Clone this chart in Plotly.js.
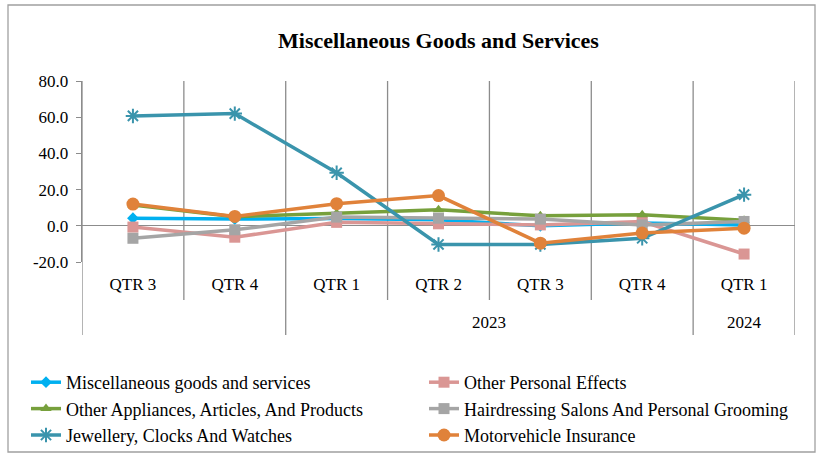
<!DOCTYPE html>
<html>
<head>
<meta charset="utf-8">
<script src="https://cdn.plot.ly/plotly-3.0.1.min.js"></script>
<style>html,body{margin:0;padding:0;background:#fff;}#chart{width:824px;height:455px;}</style>
</head>
<body>
<div id="chart"></div>
<script>
// ---- data ----
const quarters = ["QTR 3", "QTR 4", "QTR 1", "QTR 2", "QTR 3", "QTR 4", "QTR 1"];
const years = ["", "", "2023", "2023", "2023", "2023", "2024"];
const seriesNames = [
  "Miscellaneous goods and services",
  "Other Personal Effects",
  "Other Appliances, Articles, And Products",
  "Hairdressing Salons And Personal Grooming",
  "Jewellery, Clocks And Watches",
  "Motorvehicle Insurance"
];
const miscGoods = [4.2, 3.7, 4.0, 3.3, 0.0, 1.5, 0.5];
const otherPersonal = [-0.7, -6.3, 1.9, 1.1, 0.5, 2.4, -15.6];
const otherAppliances = [11.5, 5.0, 7.0, 8.8, 5.5, 6.1, 3.0];
const hairdressing = [-6.9, -2.2, 4.8, 4.2, 3.7, 0.5, 2.4];
const jewellery = [60.7, 62.0, 29.3, -10.3, -10.3, -6.9, 17.2];
const motorInsurance = [12.0, 5.2, 12.2, 16.7, -9.6, -4.0, -1.3];
const yTickVals = [-20, 0, 20, 40, 60, 80];
const yTickText = ["-20.0", "0.0", "20.0", "40.0", "60.0", "80.0"];

// ---- styling ----
const FONT = "Liberation Serif, Times New Roman, serif";
const idx = quarters.map((_, i) => i);
const allValues = [miscGoods, otherPersonal, otherAppliances, hairdressing, jewellery, motorInsurance];
const styles = [
  {color: "#00B0F0", symbol: "diamond", size: 9},
  {color: "#DA9694", symbol: "square", size: 11},
  {color: "#77A03C", symbol: "triangle-up", size: 10},
  {color: "#A5A5A5", symbol: "square", size: 11},
  {color: "#3A94AC", symbol: "asterisk-open", size: 12},
  {color: "#E0823A", symbol: "circle", size: 13}
];

const traces = allValues.map((vals, k) => ({
  type: "scatter",
  mode: "lines+markers",
  name: seriesNames[k],
  legend: k % 2 === 0 ? "legend" : "legend2",
  x: idx,
  y: vals,
  line: {color: styles[k].color, width: 3.5},
  marker: {
    color: styles[k].color,
    symbol: styles[k].symbol,
    size: styles[k].size,
    line: {color: styles[k].color, width: styles[k].symbol === "asterisk-open" ? 2 : 0}
  }
}));

// plot area in px: left 82, right 795, top 81, bottom 262
const W = 824, H = 455;
const L = 82, R = 795, T = 81, B = 262;
const pw = R - L, ph = B - T;
const py = px => (B - px) / ph;   // px -> paper y
const pxx = px => (px - L) / pw;  // px -> paper x

const shapes = [];
// vertical category boundaries
for (let i = 0; i <= quarters.length; i++) {
  const xv = i - 0.5;
  const groupEdge = (i === 0 || i === quarters.length || years[i] !== years[i - 1]);
  shapes.push({
    type: "line", xref: "x", yref: "paper",
    x0: xv, x1: xv, y0: 1, y1: py(groupEdge ? 335 : 300),
    line: {color: "#8C8C8C", width: 1.3}, layer: "below"
  });
}
// outer chart border
shapes.push({
  type: "rect", xref: "paper", yref: "paper",
  x0: pxx(8), x1: pxx(815), y0: py(452), y1: py(5),
  line: {color: "#A0A0A0", width: 1.3}, fillcolor: "rgba(0,0,0,0)"
});

// year labels centered over groups
const annotations = [];
const uniqYears = [...new Set(years)].filter(y => y !== "");
uniqYears.forEach(y => {
  const ids = idx.filter(i => years[i] === y);
  const center = (ids[0] + ids[ids.length - 1]) / 2;
  annotations.push({
    xref: "x", yref: "paper", x: center, y: py(322),
    text: y, showarrow: false, yanchor: "middle",
    font: {family: FONT, size: 17, color: "#000"}
  });
});

const legendBase = {
  orientation: "v",
  xref: "container", yref: "container",
  xanchor: "left", yanchor: "top",
  y: 1 - 364 / H,
  itemwidth: 30,
  tracegroupgap: 0,
  font: {family: FONT, size: 18, color: "#000"},
  bgcolor: "rgba(0,0,0,0)"
};

const layout = {
  width: W, height: H,
  margin: {l: L, r: W - R, t: T, b: H - B, autoexpand: false},
  paper_bgcolor: "#fff", plot_bgcolor: "#fff",
  title: {
    text: "<b>Miscellaneous Goods and Services</b>",
    font: {family: FONT, size: 22, color: "#000"},
    x: 0.5, xanchor: "center", xref: "paper",
    y: 1 - 40 / H, yanchor: "middle"
  },
  xaxis: {
    range: [-0.5, quarters.length - 0.5],
    tickvals: idx, ticktext: quarters,
    showgrid: false, zeroline: false, showline: false,
    ticks: "", ticklabelstandoff: 10,
    tickfont: {family: FONT, size: 17, color: "#000"},
    automargin: false,
    fixedrange: true
  },
  yaxis: {
    range: [-20, 80],
    tickvals: yTickVals, ticktext: yTickText,
    showgrid: false,
    zeroline: true, zerolinecolor: "#8C8C8C", zerolinewidth: 1.3,
    showline: true, linecolor: "#8C8C8C", linewidth: 1.3,
    ticks: "outside", ticklen: 5, tickcolor: "#8C8C8C",
    ticklabelstandoff: 4,
    tickfont: {family: FONT, size: 17, color: "#000"},
    automargin: false,
    fixedrange: true
  },
  showlegend: true,
  legend: Object.assign({}, legendBase, {x: 26 / W}),
  legend2: Object.assign({}, legendBase, {x: 424 / W}),
  shapes: shapes,
  annotations: annotations
};

Plotly.newPlot("chart", traces, layout, {displayModeBar: false, staticPlot: true});
</script>
</body>
</html>
